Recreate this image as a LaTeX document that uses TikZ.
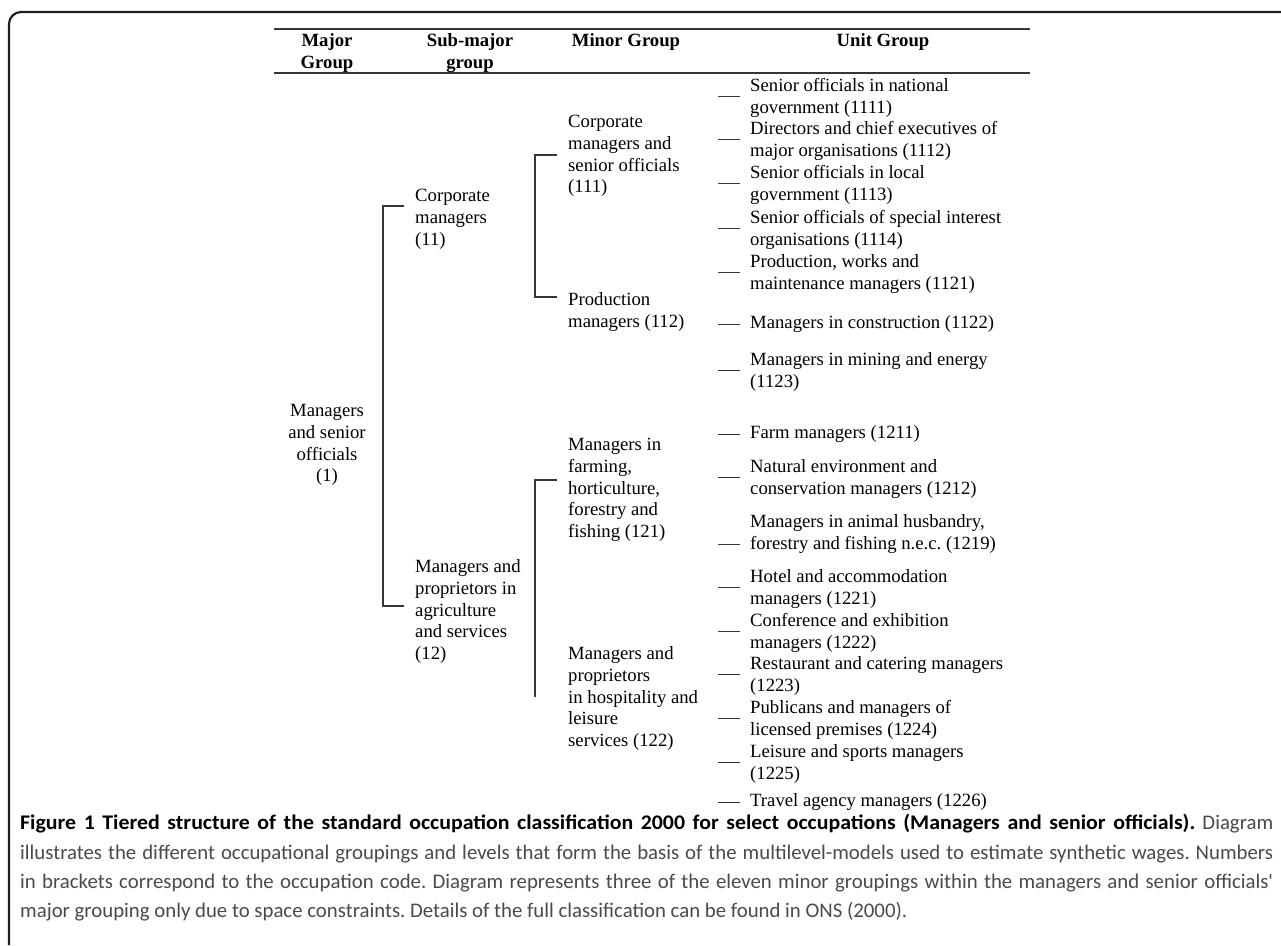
\documentclass[tikz,border=0pt]{standalone}
\usepackage{fontspec}
\setmainfont{Liberation Serif}
\newfontfamily\capfont{Carlito}[BoldFeatures={FakeStretch=1.05}]
\definecolor{ink}{HTML}{231F20}
\definecolor{capgray}{HTML}{4A4A4C}
\newcommand\dgsize{\fontsize{18.7}{21.8}\selectfont}
\newcommand\capsize{\fontsize{20.8}{29.3}\selectfont}
\begin{document}
\frenchspacing
\begin{tikzpicture}[x=1pt,y=-1pt,
  lbl/.style={inner sep=0pt, anchor=north west, align=left, font=\dgsize, text=black},
  clbl/.style={lbl, anchor=north, align=center},
  hdr/.style={clbl, font=\dgsize\bfseries},
  brk/.style={draw=ink!90, line width=1.2pt},
  rulel/.style={draw=ink!90, line width=1.4pt},
  dashl/.style={draw=ink!90, line width=1.2pt},
  frame/.style={draw=ink, line width=2.2pt, rounded corners=12pt}]
\useasboundingbox (0,0) rectangle (1281,945);
\fill[white] (0,0) rectangle (1281,945);
% outer frame (top and left sides)
\coordinate (fa) at (9,945); \coordinate (fb) at (9,12); \coordinate (fc) at (1281,12);
\draw[frame] (fa) -- (fb) -- (fc);
% table rules
\coordinate (r1a) at (274,29); \coordinate (r1b) at (1030,29);
\coordinate (r2a) at (274,73); \coordinate (r2b) at (1030,73);
\draw[rulel] (r1a) -- (r1b);
\draw[rulel] (r2a) -- (r2b);
% headers
\node[hdr] (hmaj) at (327,31) {\strut Major\\Group};
\node[hdr] (hsub) at (470,31) {\strut Sub-major\\group};
\node[hdr] (hmin) at (626,31) {\strut Minor Group};
\node[hdr] (hunit) at (883,31) {\strut Unit Group};
% major group
\node[clbl] (maj) at (327,401) {\strut Managers\\and senior\\officials\\(1)};
% sub-major groups
\node[lbl] (s1) at (415,186) {\strut Corporate\\managers\\(11)};
\node[lbl] (s2) at (415,557) {\strut Managers and\\proprietors in\\agriculture\\and services\\(12)};
% minor groups
\node[lbl] (m1) at (568,112) {\strut Corporate\\managers and\\senior officials\\(111)};
\node[lbl] (m2) at (568,290) {\strut Production\\managers (112)};
\node[lbl] (m3) at (568,435) {\strut Managers in\\farming,\\horticulture,\\forestry and\\fishing (121)};
\node[lbl] (m4) at (568,644) {\strut Managers and\\proprietors\\in hospitality and\\leisure\\services (122)};
% unit groups
\node[lbl] (u1) at (750,76) {\strut Senior officials in national\\government (1111)};
\node[lbl] (u2) at (750,119) {\strut Directors and chief executives of\\major organisations (1112)};
\node[lbl] (u3) at (750,163) {\strut Senior officials in local\\government (1113)};
\node[lbl] (u4) at (750,208) {\strut Senior officials of special interest\\organisations (1114)};
\node[lbl] (u5) at (750,252) {\strut Production, works and\\maintenance managers (1121)};
\node[lbl] (u6) at (750,313) {\strut Managers in construction (1122)};
\node[lbl] (u7) at (750,350) {\strut Managers in mining and energy\\(1123)};
\node[lbl] (u8) at (750,423) {\strut Farm managers (1211)};
\node[lbl] (u9) at (750,457) {\strut Natural environment and\\conservation managers (1212)};
\node[lbl] (u10) at (750,512) {\strut Managers in animal husbandry,\\forestry and fishing n.e.c. (1219)};
\node[lbl] (u11) at (750,567) {\strut Hotel and accommodation\\managers (1221)};
\node[lbl] (u12) at (750,611) {\strut Conference and exhibition\\managers (1222)};
\node[lbl] (u13) at (750,654) {\strut Restaurant and catering managers\\(1223)};
\node[lbl] (u14) at (750,698) {\strut Publicans and managers of\\licensed premises (1224)};
\node[lbl] (u15) at (750,742) {\strut Leisure and sports managers\\(1225)};
\node[lbl] (u16) at (750,791) {\strut Travel agency managers (1226)};
% brackets
\coordinate (bjt0) at (404,206); \coordinate (bjt) at (383,206);
\coordinate (bjb) at (383,606); \coordinate (bjb0) at (404,606);
\draw[brk] (bjt0) -- (bjt) -- (bjb) -- (bjb0);
\coordinate (b1t0) at (557,155); \coordinate (b1t) at (535,155);
\coordinate (b1b) at (535,297); \coordinate (b1b0) at (557,297);
\draw[brk] (b1t0) -- (b1t) -- (b1b) -- (b1b0);
\coordinate (b2t0) at (557,480); \coordinate (b2t) at (535,480);
\coordinate (b2b) at (535,697);
\draw[brk] (b2t0) -- (b2t) -- (b2b);
% dashes before unit groups
\foreach \n in {1,2,3,4,5,6,7,8,9,11,12,13,14,15,16}
  \draw[dashl] ([xshift=-32pt]u\n.west) -- ([xshift=-10pt]u\n.west);
\draw[dashl] ([xshift=-32pt,yshift=-12pt]u10.west) -- ([xshift=-10pt,yshift=-12pt]u10.west);
% caption
\node[inner sep=0pt, anchor=north west, text width=1253pt, align=justify,
      font=\capsize\capfont, text=capgray] (cap) at (20,809)
{\strut\textcolor{black}{\bfseries Figure 1 Tiered structure of the standard occupation classification 2000 for select occupations (Managers and senior officials).} Diagram\linebreak
illustrates the different occupational groupings and levels that form the basis of the multilevel-models used to estimate synthetic wages. Numbers\linebreak
in brackets correspond to the occupation code. Diagram represents three of the eleven minor groupings within the managers and senior officials'\linebreak
major grouping only due to space constraints. Details of the full classification can be found in ONS (2000).};
\end{tikzpicture}
\end{document}
